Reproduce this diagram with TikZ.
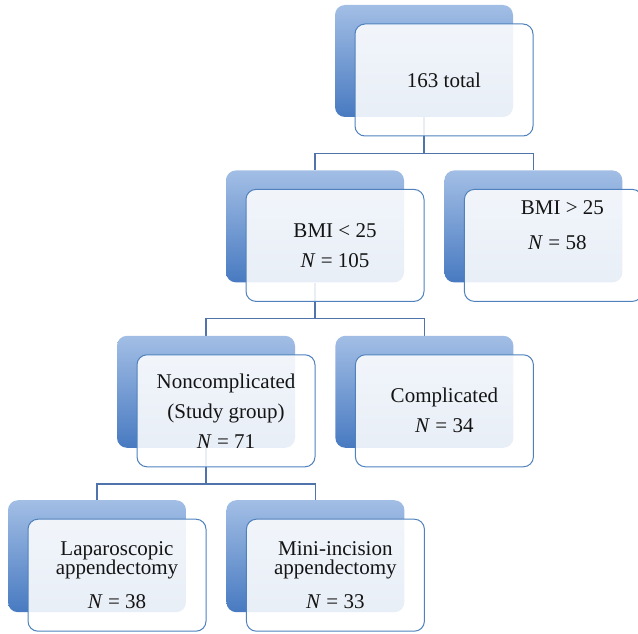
\documentclass[tikz,border=0pt]{standalone}
\usepackage{fontspec}
\setmainfont{Liberation Serif}
\usepackage{xcolor}
\usetikzlibrary{positioning, backgrounds}
\definecolor{SmartLight}{RGB}{162, 190, 229}
\definecolor{SmartDark}{RGB}{72, 122, 193}
\definecolor{SmartBorder}{RGB}{79, 129, 189}
\definecolor{SmartLine}{RGB}{80, 115, 172}
\definecolor{SmartText}{RGB}{20, 20, 20}

\begin{document}
\begin{tikzpicture}[
    x=1pt, y=1pt,
    font=\fontsize{21}{30}\selectfont,
    % Styles - shaded back card, pale front card
    backbox/.style={rectangle, rounded corners=10pt, minimum width=178pt, minimum height=112pt, draw=none, top color=SmartLight, bottom color=SmartDark, inner sep=0pt},
    frontbox/.style={rectangle, rounded corners=10pt, minimum width=178pt, minimum height=112pt, draw=SmartBorder, line width=1pt, fill=white, fill opacity=0.88, text opacity=1, align=center, text=SmartText, inner sep=0pt},
    link/.style={line width=1.1pt, -, color=SmartLine}
]
\useasboundingbox (0,0) rectangle (638,-634);

% ==========================================================================================
% LEVEL 1
% ==========================================================================================
\node[backbox] (total_back) at (424,-61) {};
\node[frontbox] (total_front) at ([shift={(20pt,-19pt)}]total_back.center) {163 total};

% ==========================================================================================
% LEVEL 2
% ==========================================================================================
\node[backbox, below=53pt of total_back, xshift=-109pt] (lo_back) {};
\node[backbox, right=40pt of lo_back] (hi_back) {};
\node[frontbox] (lo_front) at ([shift={(20pt,-19pt)}]lo_back.center) {BMI < 25\\\textit{N} = 105};
\node[frontbox] (hi_front) at ([shift={(20pt,-19pt)}]hi_back.center) {\hspace*{18pt}BMI > 25\\[5pt]\hspace*{8pt}\textit{N} = 58\\[10pt]};

% ==========================================================================================
% LEVEL 3
% ==========================================================================================
\node[backbox, below=53pt of lo_back, xshift=-109pt] (nc_back) {};
\node[backbox, right=40pt of nc_back] (comp_back) {};
\node[frontbox] (nc_front) at ([shift={(20pt,-19pt)}]nc_back.center) {Noncomplicated\\(Study group)\\\textit{N} = 71};
\node[frontbox] (comp_front) at ([shift={(20pt,-19pt)}]comp_back.center) {Complicated\\\textit{N} = 34};

% ==========================================================================================
% LEVEL 4
% ==========================================================================================
\node[backbox, below=52pt of nc_back, xshift=-109pt] (lap_back) {};
\node[backbox, right=40pt of lap_back] (mini_back) {};
\node[frontbox] (lap_front) at ([shift={(20pt,-19pt)}]lap_back.center) {Laparoscopic\\[-11pt]appendectomy\\[4pt]\textit{N} = 38};
\node[frontbox] (mini_front) at ([shift={(20pt,-19pt)}]mini_back.center) {Mini-incision\\[-11pt]appendectomy\\[4pt]\textit{N} = 33};

% Connectors behind the cards
\begin{scope}[on background layer]
    \draw[link] (total_back.south) -- ++(0,-36pt) -| (lo_back.north);
    \draw[link] (total_back.south) -- ++(0,-36pt) -| (hi_back.north);
    \draw[link] (lo_back.south) -- ++(0,-36pt) -| (nc_back.north);
    \draw[link] (lo_back.south) -- ++(0,-36pt) -| (comp_back.north);
    \draw[link] (nc_back.south) -- ++(0,-36pt) -| (lap_back.north);
    \draw[link] (nc_back.south) -- ++(0,-36pt) -| (mini_back.north);
\end{scope}

\end{tikzpicture}
\end{document}
